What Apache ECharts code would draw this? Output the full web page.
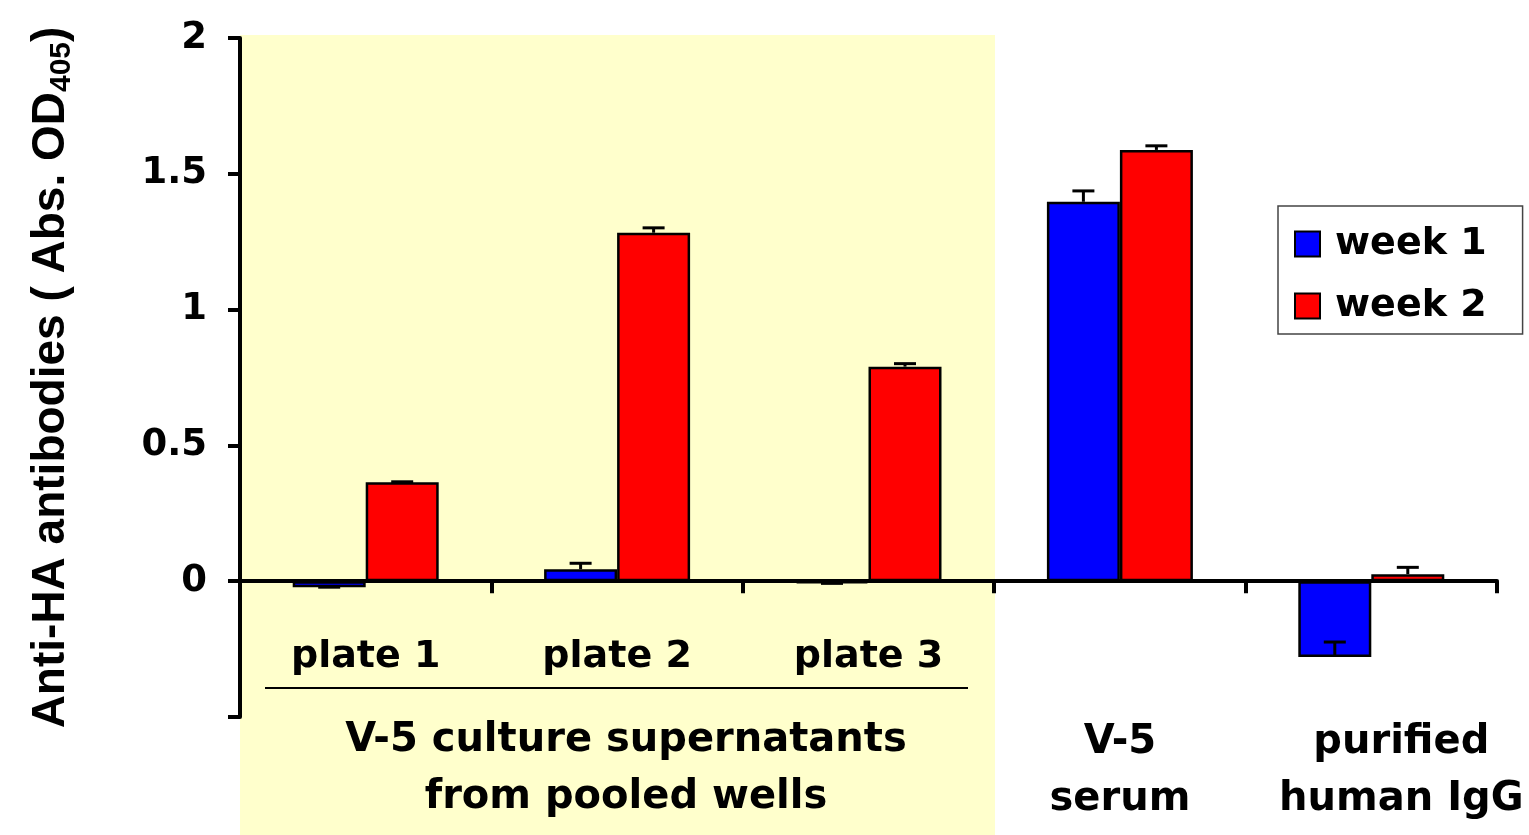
<!DOCTYPE html>
<html>
<head>
<meta charset="utf-8">
<script src="https://cdn.jsdelivr.net/npm/echarts@6/dist/echarts.min.js"></script>
<style>
  html, body { margin: 0; padding: 0; background: #fff; }
  #chart { width: 1529px; height: 835px; }
</style>
</head>
<body>
<div id="chart"></div>
<script>
// values
const categories = ['plate 1', 'plate 2', 'plate 3', 'V-5\nserum', 'purified\nhuman IgG']
const seriesNames = ['week 1', 'week 2']
const week1 = [-0.022, 0.044, -0.008, 1.397, -0.279]
const week2 = [0.364, 1.283, 0.79, 1.588, 0.026]
// end of each error bar
const week1Err = [-0.022, 0.066, -0.008, 1.437, -0.224]
const week2Err = [0.366, 1.301, 0.801, 1.603, 0.051]
const yTicks = [-0.5, 0, 0.5, 1, 1.5, 2]

const hFont = 'DejaVu Sans'
const chart = echarts.init(document.getElementById('chart'))

const errSeries = (vals, errs, shift) => ({
  type: 'custom',
  name: 'err' + shift,
  z: 5,
  silent: true,
  data: vals.map((v, i) => [i, v, errs[i]]),
  renderItem: (params, api) => {
    const a = api.coord([api.value(0), api.value(1)])
    const b = api.coord([api.value(0), api.value(2)])
    const x = a[0] + shift
    const st = { stroke: '#000', lineWidth: 3 }
    return {
      type: 'group',
      children: [
        { type: 'line', shape: { x1: x, y1: a[1], x2: x, y2: b[1] }, style: st },
        { type: 'line', shape: { x1: x - 11, y1: b[1], x2: x + 11, y2: b[1] }, style: st }
      ]
    }
  }
})

const xData = categories.map((c, i) => {
  if (i < 3) return { value: c, textStyle: { fontSize: 38 } }
  return {
    value: c,
    textStyle: { fontSize: 40, lineHeight: 57, padding: i === 4 ? [85, 0, 0, 60] : [85, 0, 0, 0] }
  }
})

chart.setOption({
  animation: false,
  backgroundColor: '#fff',
  grid: { left: 240, right: 32, top: 38, bottom: 118, outerBoundsMode: 'none', containLabel: false },
  graphic: [
    { type: 'rect', z: -10, shape: { x: 240, y: 35, width: 755, height: 800 }, style: { fill: '#FFFFCC' } },
    { type: 'line', z: 10, shape: { x1: 265, y1: 688, x2: 968, y2: 688 }, style: { stroke: '#000', lineWidth: 2 } },
    {
      type: 'text', z: 10, x: 626, y: 712,
      style: {
        text: 'V-5 culture supernatants\nfrom pooled wells',
        font: 'bold 40px "DejaVu Sans"', fill: '#000', align: 'center', verticalAlign: 'top', lineHeight: 57
      }
    }
  ],
  legend: {
    data: seriesNames,
    orient: 'vertical',
    left: 1278,
    top: 206,
    backgroundColor: '#fff',
    borderColor: '#444',
    borderWidth: 1.5,
    padding: [19, 36, 9, 16],
    itemWidth: 25,
    itemHeight: 25,
    itemGap: 24,
    icon: 'rect',
    textStyle: { fontFamily: hFont, fontWeight: 'bold', fontSize: 38, color: '#000', padding: [0, 0, 0, 10] }
  },
  xAxis: {
    type: 'category',
    data: xData,
    axisLine: { onZero: true, lineStyle: { color: '#000', width: 4 } },
    axisTick: { show: true, length: 12, lineStyle: { color: '#000', width: 4 } },
    axisLabel: {
      interval: 0,
      margin: -88,
      color: '#000',
      fontFamily: hFont,
      fontWeight: 'bold',
      fontSize: 38,
      lineHeight: 57,
      verticalAlign: 'top'
    },
    splitLine: { show: false }
  },
  yAxis: {
    type: 'value',
    min: yTicks[0],
    max: yTicks[yTicks.length - 1],
    interval: 0.5,
    name: '{a|Anti-HA antibodies ( Abs. OD}{s|405}{a|)}',
    nameLocation: 'middle',
    nameGap: 163,
    nameTextStyle: {
      rich: {
        a: { fontFamily: 'Liberation Sans', fontWeight: 'bold', fontSize: 46, color: '#000', lineHeight: 52 },
        s: { fontFamily: 'Liberation Sans', fontWeight: 'bold', fontSize: 30, color: '#000', lineHeight: 52, verticalAlign: 'bottom' }
      }
    },
    axisLine: { show: true, lineStyle: { color: '#000', width: 4 } },
    axisTick: { show: true, length: 12, lineStyle: { color: '#000', width: 4 } },
    axisLabel: {
      margin: 33,
      color: '#000',
      fontFamily: hFont,
      fontWeight: 'bold',
      fontSize: 37,
      formatter: v => (v < 0 ? '' : String(v))
    },
    splitLine: { show: false }
  },
  series: [
    {
      name: seriesNames[0], type: 'bar', data: week1, barWidth: 73, barGap: '0%',
      itemStyle: { color: '#0000FF', borderColor: '#000', borderWidth: 2.5 }
    },
    {
      name: seriesNames[1], type: 'bar', data: week2, barWidth: 73, barGap: '0%',
      itemStyle: { color: '#FF0000', borderColor: '#000', borderWidth: 2.5 }
    },
    errSeries(week1, week1Err, -36.5),
    errSeries(week2, week2Err, 36.5)
  ]
})
</script>
</body>
</html>
